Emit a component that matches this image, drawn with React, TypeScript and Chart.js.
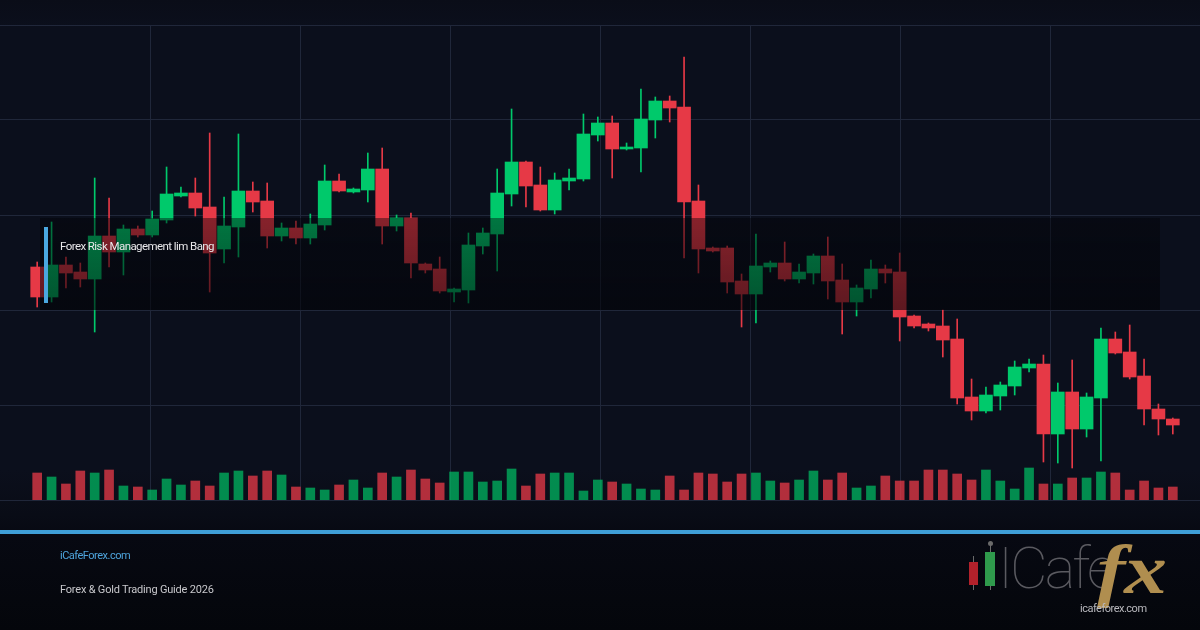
import React, { useEffect, useRef } from "react";
import { Chart, registerables } from "chart.js";

Chart.register(...registerables);

// ---- Data ----
const opens = [
  2346.6, 2340.6, 2347.0, 2345.6, 2344.2, 2352.8, 2349.6, 2354.2, 2353.0, 2356.0,
  2360.8, 2361.4, 2358.6, 2350.2, 2354.6, 2361.8, 2359.8, 2352.8, 2354.4, 2352.4,
  2355.0, 2363.8, 2361.6, 2362.0, 2366.2, 2354.8, 2356.4, 2347.2, 2346.2, 2341.6,
  2342.0, 2350.8, 2353.2, 2361.2, 2367.6, 2363.0, 2358.0, 2363.8, 2364.2, 2373.0,
  2375.4, 2370.2, 2370.4, 2376.0, 2379.8, 2378.6, 2359.8, 2350.4, 2350.4, 2343.8,
  2341.2, 2346.6, 2347.4, 2344.2, 2345.4, 2348.8, 2344.0, 2339.6, 2342.2, 2346.2,
  2345.6, 2336.8, 2335.2, 2334.8, 2332.2, 2320.6, 2317.8, 2320.8, 2322.8, 2326.4,
  2327.2, 2313.2, 2321.6, 2314.2, 2320.4, 2332.2, 2329.6, 2324.8, 2318.2, 2316.2,
];
const highs = [
  2347.6, 2355.6, 2348.6, 2347.4, 2364.4, 2360.4, 2355.0, 2354.8, 2357.8, 2366.6,
  2362.6, 2364.4, 2373.4, 2360.6, 2373.2, 2363.6, 2363.4, 2355.4, 2355.8, 2357.2,
  2367.0, 2365.2, 2362.4, 2369.4, 2370.4, 2357.0, 2357.4, 2347.4, 2348.6, 2342.4,
  2353.4, 2354.4, 2366.2, 2378.2, 2367.8, 2366.6, 2365.4, 2366.2, 2377.2, 2376.6,
  2376.8, 2371.4, 2382.2, 2380.6, 2380.8, 2388.6, 2363.0, 2350.6, 2350.8, 2345.2,
  2353.2, 2347.8, 2351.6, 2347.2, 2349.2, 2352.6, 2347.2, 2343.0, 2348.0, 2347.0,
  2349.4, 2337.0, 2335.4, 2338.0, 2336.2, 2324.2, 2322.6, 2323.6, 2327.8, 2328.2,
  2329.0, 2323.4, 2328.0, 2321.4, 2334.4, 2333.6, 2335.0, 2328.2, 2319.2, 2316.4,
];
const lows = [
  2338.6, 2339.6, 2342.4, 2342.6, 2333.6, 2346.6, 2345.0, 2352.6, 2352.6, 2355.4,
  2360.6, 2356.8, 2341.6, 2347.4, 2348.6, 2357.6, 2350.4, 2351.8, 2351.2, 2351.2,
  2354.0, 2361.6, 2361.4, 2359.6, 2351.2, 2353.8, 2344.4, 2345.4, 2341.4, 2339.6,
  2339.4, 2349.2, 2345.8, 2358.8, 2358.6, 2357.8, 2357.2, 2362.0, 2363.8, 2371.8,
  2364.4, 2370.0, 2365.6, 2372.4, 2375.6, 2348.4, 2345.4, 2349.6, 2341.4, 2334.6,
  2335.4, 2345.6, 2343.8, 2343.4, 2343.2, 2340.2, 2333.2, 2336.8, 2340.4, 2343.4,
  2331.8, 2334.4, 2333.8, 2328.6, 2319.2, 2316.0, 2317.4, 2318.0, 2321.0, 2325.6,
  2307.6, 2307.4, 2306.4, 2312.6, 2307.8, 2329.2, 2324.2, 2315.0, 2313.0, 2313.2,
];
const closes = [
  2340.6, 2347.0, 2345.4, 2344.2, 2352.8, 2349.6, 2354.2, 2353.0, 2356.2, 2361.2,
  2361.4, 2358.4, 2349.4, 2354.8, 2361.8, 2359.6, 2352.8, 2354.4, 2352.4, 2355.2,
  2363.8, 2361.8, 2362.2, 2366.2, 2354.8, 2356.4, 2347.4, 2346.0, 2341.8, 2342.2,
  2351.0, 2353.4, 2361.4, 2367.6, 2362.8, 2358.0, 2364.0, 2364.4, 2373.2, 2375.4,
  2370.2, 2370.6, 2376.2, 2379.8, 2378.4, 2359.6, 2350.2, 2349.8, 2343.6, 2341.2,
  2346.8, 2347.4, 2344.2, 2345.6, 2348.8, 2343.8, 2339.6, 2342.4, 2346.2, 2345.4,
  2336.6, 2334.8, 2334.4, 2332.0, 2320.4, 2317.8, 2321.0, 2323.0, 2326.6, 2327.2,
  2313.2, 2321.6, 2314.2, 2320.6, 2332.2, 2329.4, 2324.6, 2318.2, 2316.2, 2315.0,
];
const volumes = [
  1080, 920, 640, 1160, 1080, 1200, 560, 520, 400, 840,
  600, 760, 560, 1080, 1160, 960, 1160, 1000, 520, 480,
  400, 600, 800, 480, 1080, 920, 1200, 840, 680, 1120,
  1120, 720, 760, 1240, 560, 1040, 1080, 1080, 360, 800,
  720, 640, 440, 400, 960, 400, 1080, 1040, 720, 1040,
  1080, 760, 680, 800, 1160, 800, 1080, 480, 560, 960,
  760, 760, 1200, 1200, 1040, 800, 1200, 760, 440, 1280,
  640, 640, 880, 880, 1120, 1080, 400, 760, 480, 520,
];

const UP = "#00c96b";
const DOWN = "#e63946";
const UP_VOL = "rgba(0,190,100,0.72)";
const DOWN_VOL = "rgba(226,56,70,0.78)";

export default function App() {
  const canvasRef = useRef<HTMLCanvasElement | null>(null);

  useEffect(() => {
    const canvas = canvasRef.current;
    if (!canvas) return;
    const isUp = opens.map((o, i) => closes[i] >= o);
    const bodyColors = isUp.map((u) => (u ? UP : DOWN));
    const volColors = isUp.map((u) => (u ? UP_VOL : DOWN_VOL));

    const chart = new Chart(canvas, {
      type: "bar",
      data: {
        datasets: [
          {
            label: "Body",
            data: opens.map((o, i) => ({ x: i, y: [o, closes[i]] })),
            backgroundColor: bodyColors,
            borderWidth: 0,
            barThickness: 13,
            minBarLength: 1,
            grouped: false,
            order: 0,
            xAxisID: "x",
            yAxisID: "y",
          } as any,
          {
            label: "Wick",
            data: lows.map((l, i) => ({ x: i, y: [l, highs[i]] })),
            backgroundColor: bodyColors,
            borderWidth: 0,
            barThickness: 1,
            grouped: false,
            order: 1,
            xAxisID: "x",
            yAxisID: "y",
          } as any,
          {
            label: "Volume",
            data: volumes.map((v, i) => ({ x: i, y: v })),
            backgroundColor: volColors,
            borderWidth: 0,
            barThickness: 9,
            grouped: false,
            order: 2,
            xAxisID: "x",
            yAxisID: "yVol",
          } as any,
        ],
      },
      options: {
        responsive: false,
        animation: false,
        events: [],
        layout: { padding: { top: 25, bottom: 130, left: 0, right: 0 } },
        plugins: { legend: { display: false }, tooltip: { enabled: false } },
        scales: {
          x: {
            type: "linear",
            display: false,
            offset: false,
            min: -2.587,
            max: 80.891,
            grid: { display: false, offset: false },
          },
          xGrid: {
            type: "linear",
            axis: "x",
            position: "bottom",
            display: true,
            offset: false,
            min: 0,
            max: 1200,
            ticks: { display: false, stepSize: 150 },
            border: { display: false },
            grid: {
              offset: false,
              drawTicks: false,
              lineWidth: 1,
              color: (ctx: any) =>
                ctx.tick && (ctx.tick.value === 0 || ctx.tick.value === 1200)
                  ? "rgba(0,0,0,0)"
                  : "#20273a",
            },
          } as any,
          y: {
            type: "linear",
            position: "left",
            display: true,
            min: 2300,
            max: 2395,
            ticks: { display: false, stepSize: 19 },
            border: { display: false },
            grid: { drawTicks: false, color: "#20273a", lineWidth: 1 },
          },
          yVol: {
            type: "linear",
            position: "right",
            display: false,
            min: 0,
            max: 19000,
            grid: { display: false },
          },
        },
      },
    } as any);
    return () => chart.destroy();
  }, []);

  return (
    <div
      style={{
        position: "fixed",
        left: 0,
        top: 0,
        width: 1200,
        height: 630,
        overflow: "hidden",
        background:
          "linear-gradient(180deg, #0a0d18 0px, #0b0f1c 28px, #0b0f1c 470px, #090c16 515px, #070912 536px, #04060b 630px)",
        fontFamily: "Roboto, 'Noto Sans', sans-serif",
      }}
    >
      <canvas
        ref={canvasRef}
        width={1200}
        height={630}
        style={{ position: "absolute", left: 0, top: 0, width: 1200, height: 630 }}
      />
      {/* translucent title band */}
      <div
        style={{
          position: "absolute",
          left: 40,
          top: 218,
          width: 1120,
          height: 92,
          background:
            "linear-gradient(180deg, rgba(2,3,7,0.42) 0%, rgba(2,3,7,0.6) 100%)",
        }}
      />
      <div
        style={{
          position: "absolute",
          left: 44,
          top: 227,
          width: 4,
          height: 76,
          background: "#4aa8e0",
        }}
      />
      <div
        style={{
          position: "absolute",
          left: 60,
          top: 239,
          fontSize: 11.5,
          lineHeight: "14px",
          color: "#e8e8ea",
          letterSpacing: "-0.57px",
          whiteSpace: "nowrap",
        }}
      >
        Forex Risk Management lim Bang
      </div>

      {/* footer */}
      <div
        style={{
          position: "absolute",
          left: 0,
          top: 530,
          width: 1200,
          height: 4,
          background: "#3f9fd8",
        }}
      />
      <div
        style={{
          position: "absolute",
          left: 60,
          top: 549,
          fontSize: 11,
          lineHeight: "13px",
          color: "#4ea4dc",
          letterSpacing: "-0.5px",
          whiteSpace: "nowrap",
        }}
      >
        iCafeForex.com
      </div>
      <div
        style={{
          position: "absolute",
          left: 60,
          top: 583,
          fontSize: 11,
          lineHeight: "13px",
          color: "#c8c8cc",
          letterSpacing: "-0.2px",
          whiteSpace: "nowrap",
        }}
      >
        Forex &amp; Gold Trading Guide 2026
      </div>

      {/* logo */}
      <div style={{ position: "absolute", left: 973, top: 556, width: 1, height: 34, background: "#6a6a6a" }} />
      <div style={{ position: "absolute", left: 969, top: 562, width: 9, height: 23, background: "#b3212b" }} />
      <div style={{ position: "absolute", left: 990, top: 542, width: 1, height: 48, background: "#6a6a6a" }} />
      <div style={{ position: "absolute", left: 988, top: 541, width: 5, height: 5, borderRadius: 3, background: "#6a6a6a" }} />
      <div style={{ position: "absolute", left: 985, top: 552, width: 10, height: 34, background: "#2f9a4c" }} />
      <div
        style={{
          position: "absolute",
          left: 998,
          top: 536,
          fontSize: 58,
          lineHeight: "64px",
          fontWeight: 100,
          color: "#5a5a60",
          letterSpacing: "-3px",
          whiteSpace: "nowrap",
        }}
      >
        ICafe
      </div>
      <div
        style={{
          position: "absolute",
          left: 1097,
          top: 538,
          fontSize: 70,
          lineHeight: "64px",
          fontWeight: 700,
          fontStyle: "italic",
          fontFamily: "'Liberation Serif', 'DejaVu Serif', serif",
          color: "#b08e4f",
          letterSpacing: "-1px",
          whiteSpace: "nowrap",
          transform: "scaleX(1.22)",
          transformOrigin: "left center",
        }}
      >
        fx
      </div>
      <div
        style={{
          position: "absolute",
          left: 1080,
          top: 602,
          fontSize: 11,
          lineHeight: "13px",
          color: "#b9b9be",
          letterSpacing: "-0.5px",
          whiteSpace: "nowrap",
        }}
      >
        icafeforex.com
      </div>
    </div>
  );
}
